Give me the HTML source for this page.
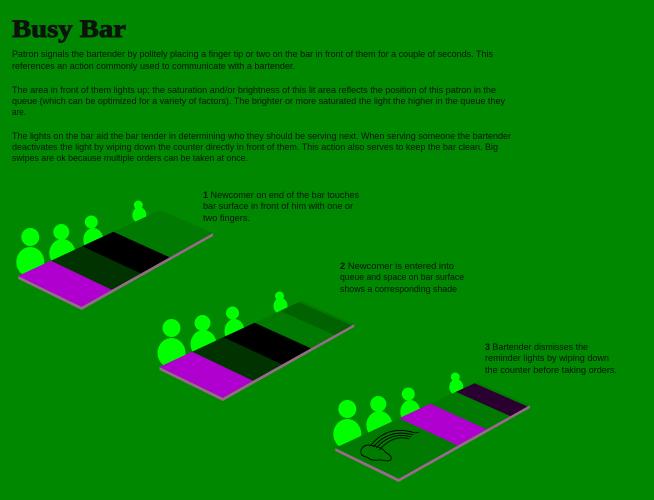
<!DOCTYPE html>
<html><head><meta charset="utf-8"><style>
html,body{margin:0;padding:0;background:#008800;}
svg{display:block}
text{font-family:"Liberation Sans",sans-serif;font-size:9.5px;fill:#0a140a}
</style></head><body>
<svg width="654" height="500" viewBox="0 0 654 500" xmlns="http://www.w3.org/2000/svg">
<rect width="654" height="500" fill="#008800"/>
<text x="12" y="37" style="font-family:'Liberation Serif',serif;font-weight:bold;font-size:25px;stroke:#0a140a;stroke-width:0.9" textLength="114" lengthAdjust="spacingAndGlyphs">Busy Bar</text>
<text x="12" y="57" textLength="481" lengthAdjust="spacingAndGlyphs">Patron signals the bartender by politely placing a finger tip or two on the bar in front of them for a couple of seconds.  This</text>
<text x="12" y="69" textLength="283" lengthAdjust="spacingAndGlyphs">references an action commonly used to communicate with a bartender.</text>
<text x="12" y="93" textLength="484" lengthAdjust="spacingAndGlyphs">The area in front of them lights up; the saturation and/or brightness of this lit area reflects the position of this patron in the</text>
<text x="12" y="104" textLength="493" lengthAdjust="spacingAndGlyphs">queue (which can be optimized for a variety of factors).  The brighter or more saturated the light the higher in the queue they</text>
<text x="12" y="115" textLength="14" lengthAdjust="spacingAndGlyphs">are.</text>
<text x="12" y="139" textLength="499" lengthAdjust="spacingAndGlyphs">The lights on the bar aid the bar tender in determining who they should be serving next. When serving someone the bartender</text>
<text x="12" y="150" textLength="486" lengthAdjust="spacingAndGlyphs">deactivates the light by wiping down the counter directly in front of them. This action also serves to keep the bar clean.  Big</text>
<text x="12" y="161" textLength="236" lengthAdjust="spacingAndGlyphs">swipes are ok because multiple orders can be taken at once.</text>

<text x="203" y="198" textLength="156" lengthAdjust="spacingAndGlyphs"><tspan font-weight="bold">1</tspan> Newcomer on end of the bar touches</text>
<text x="203" y="209" textLength="150" lengthAdjust="spacingAndGlyphs">bar surface in front of him with one or</text>
<text x="203" y="221" textLength="47" lengthAdjust="spacingAndGlyphs">two fingers.</text>

<text x="340" y="269" textLength="114" lengthAdjust="spacingAndGlyphs"><tspan font-weight="bold">2</tspan>  Newcomer  is entered into</text>
<text x="340" y="280" textLength="124" lengthAdjust="spacingAndGlyphs">queue and space on bar surface</text>
<text x="340" y="292" textLength="117" lengthAdjust="spacingAndGlyphs">shows a corresponding shade</text>

<text x="485" y="350" textLength="103" lengthAdjust="spacingAndGlyphs"><tspan font-weight="bold">3</tspan> Bartender dismisses the</text>
<text x="485" y="361" textLength="124" lengthAdjust="spacingAndGlyphs">reminder lights by wiping down</text>
<text x="485" y="373" textLength="132" lengthAdjust="spacingAndGlyphs">the counter  before taking orders.</text>

<defs>
<clipPath id="cp"><polygon points="-50,23.2 300,-139.4 300,-300 -50,-300"/></clipPath>
<g id="base">
 <g clip-path="url(#cp)" fill="#00ff00">
  <circle cx="12" cy="-39" r="9"/><ellipse cx="12" cy="-14" rx="14" ry="15"/>
  <circle cx="43" cy="-44" r="8"/><ellipse cx="44" cy="-23" rx="13" ry="14"/>
  <circle cx="73" cy="-54" r="6.5"/><ellipse cx="75" cy="-36" rx="10" ry="12"/>
  <circle cx="120" cy="-71" r="4.5"/><ellipse cx="121" cy="-61" rx="7" ry="8"/>
 </g>
 <polygon points="0,0 63.3,30.7 194.7,-43 194.7,-40 63.3,34 0,3" fill="#9a6a8a"/>
 <polygon points="0,0 142,-66 194.7,-43 63.3,30.7" fill="#007a00"/>
</g>
</defs>

<g transform="translate(18.3,276)">
 <use href="#base"/>
 <polygon points="0,0 32.7,-15.2 93.5,13.7 63.3,30.7" fill="#b000d0"/>
 <polygon points="32.7,-15.2 63.9,-29.7 122.4,-2.5 93.5,13.7" fill="#003300"/>
 <polygon points="63.9,-29.7 95.1,-44.2 151.3,-18.7 122.4,-2.5" fill="#000"/>
</g>

<g transform="translate(159.5,367)">
 <use href="#base"/>
 <polygon points="0,0 32.7,-15.2 93.5,13.7 63.3,30.7" fill="#b000d0"/>
 <polygon points="32.7,-15.2 63.9,-29.7 122.4,-2.5 93.5,13.7" fill="#003300"/>
 <polygon points="63.9,-29.7 95.1,-44.2 151.3,-18.7 122.4,-2.5" fill="#000"/>
 <polygon points="120.7,-56.1 139.2,-64.7 192.1,-41.5 175,-31.9" fill="#006200"/>
</g>

<g transform="translate(335.3,448)">
 <use href="#base"/>
 <polygon points="63.9,-29.7 95.1,-44.2 151.3,-18.7 122.4,-2.5" fill="#b000d0"/>
 <polygon points="120.7,-56.1 139.2,-64.7 192.1,-41.5 175,-31.9" fill="#2a0030"/>
 <g fill="none" stroke="#000" stroke-width="0.9">
  <path d="M35,-2 Q52,-24 80,-15"/>
  <path d="M38,-1 Q54,-20 78,-13"/>
  <path d="M41,0 Q56,-17 76,-11"/>
  <path d="M44,2 Q58,-14 74,-9"/>
  <path d="M80,-15 L84,-16"/>
  <path d="M33,-3 C28,-3 24,2 26,6 C27,9 31,8 33,10 C36,13 42,12 46,12 C50,13 56,14 56,10 C56,7 52,6 50,4 C48,1 44,-1 40,-2 Z"/>
 </g>
</g>
</svg>
</body></html>
